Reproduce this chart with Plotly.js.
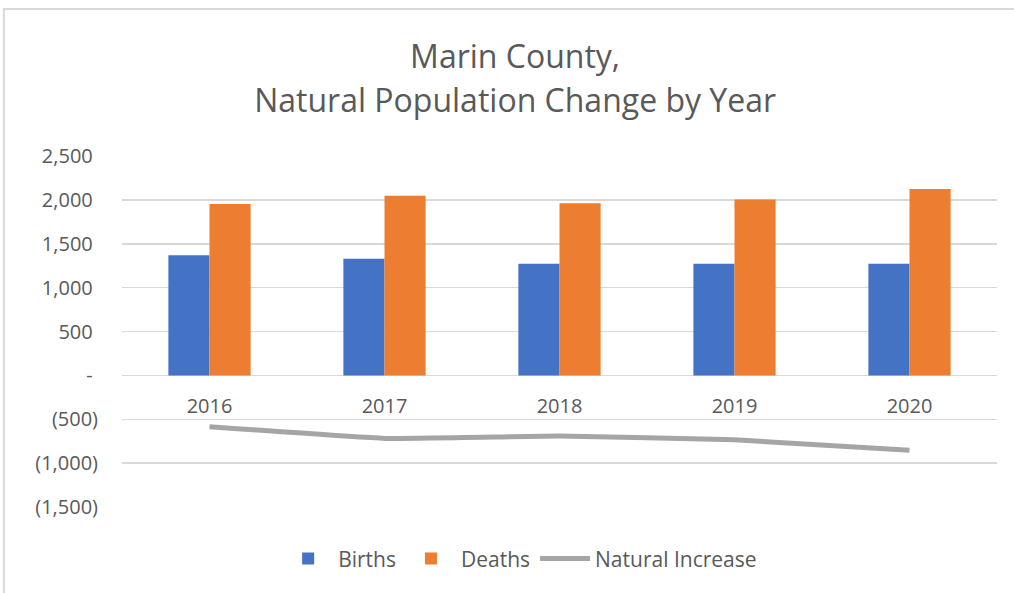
<!DOCTYPE html>
<html>
<head>
<meta charset="utf-8">
<script src="https://cdn.plot.ly/plotly-3.0.1.min.js"></script>
<style>html,body{margin:0;padding:0;background:#fff;}#chart{width:1014px;height:593px;}</style>
</head>
<body>
<div id="chart"></div>
<script>
const years = ['2016', '2017', '2018', '2019', '2020'];
const births = [1369, 1328, 1271, 1271, 1271];
const deaths = [1954, 2046, 1962, 2005, 2124];
const naturalIncrease = [-585, -718, -691, -734, -853];
const yTickVals = [-1500, -1000, -500, 0, 500, 1000, 1500, 2000, 2500];
const yTickText = ['(1,500)', '(1,000)', '(500)', '-\u2008', '500\u2008', '1,000\u2008', '1,500\u2008', '2,000\u2008', '2,500\u2008'];

const FONT = '"Open Sans", Lato, sans-serif';
const TXT = '#595959';

const traces = [
  {type: 'bar', name: 'Births', x: years, y: births, marker: {color: '#4472c4'}},
  {type: 'bar', name: 'Deaths', x: years, y: deaths, marker: {color: '#ed7d31'}},
  {type: 'scatter', mode: 'lines', name: 'Natural Increase', x: years, y: naturalIncrease,
   line: {color: '#a5a5a5', width: 5, shape: 'spline', smoothing: 0.3}}
];

const layout = {
  width: 1014, height: 593,
  margin: {l: 122, r: 17, t: 156, b: 86},
  paper_bgcolor: '#ffffff', plot_bgcolor: 'rgba(0,0,0,0)',
  font: {family: FONT, color: TXT, size: 19},
  title: {text: '<span style="font-size:32px">Marin County,</span><br><span style="font-size:32px">Natural Population Change by Year</span>',
          x: 0.508, xanchor: 'center', y: 0.885, yanchor: 'middle',
          font: {family: FONT, size: 34, color: TXT}},
  barmode: 'group', bargap: 0.53, bargroupgap: 0,
  xaxis: {type: 'category', anchor: 'free', position: 0.375, showline: false, showgrid: false, zeroline: false,
          ticks: 'outside', ticklen: 13, tickcolor: 'rgba(0,0,0,0)', tickfont: {size: 20, color: TXT}, range: [-0.5, 4.5]},
  yaxis: {range: [-1500, 2500], tickvals: yTickVals, ticktext: yTickText, showgrid: true, gridcolor: '#d9d9d9', gridwidth: 1.5,
          zeroline: false, showline: false, ticks: '', ticklabelstandoff: 23, tickfont: {size: 20, color: TXT}},
  legend: {orientation: 'h', x: 0.455, xanchor: 'center', y: -0.148, yanchor: 'middle', font: {size: 21, color: TXT},
           traceorder: 'normal', itemwidth: 50},
  showlegend: true,
  shapes: [
    {type: 'rect', xref: 'paper', yref: 'paper', x0: -0.135, x1: 1.05, y0: -0.4, y1: 1.419, line: {color: '#d9d9d9', width: 2}, fillcolor: 'rgba(0,0,0,0)', layer: 'below'}
  ]
};

Plotly.newPlot('chart', traces, layout, {displayModeBar: false, staticPlot: true});
</script>
</body>
</html>
